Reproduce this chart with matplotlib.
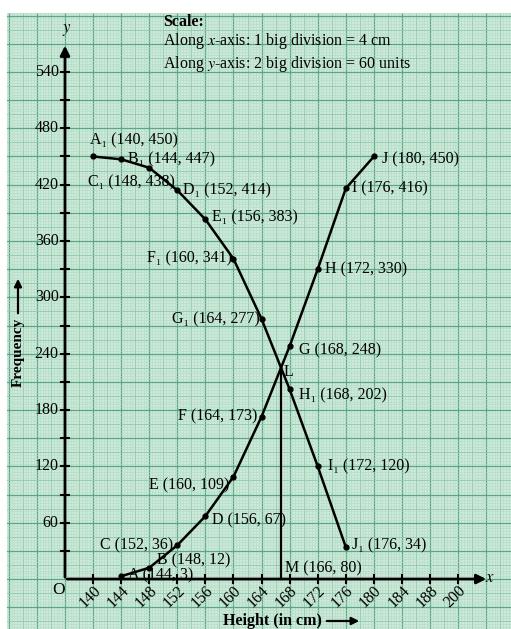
import numpy as np
import matplotlib.pyplot as plt

plt.rcParams['font.family'] = ['Liberation Serif', 'DejaVu Serif']
plt.rcParams['mathtext.fontset'] = 'stix'

# ogive data
heights_more = [140, 144, 148, 152, 156, 160, 164, 168, 172, 176]
more_than = [450, 447, 438, 414, 383, 341, 277, 202, 120, 34]
names_more = ['A₁', 'B₁', 'C₁', 'D₁', 'E₁', 'F₁', 'G₁', 'H₁', 'I₁', 'J₁']

heights_less = [144, 148, 152, 156, 160, 164, 168, 172, 176, 180]
less_than = [3, 12, 36, 67, 109, 173, 248, 330, 416, 450]
names_less = ['A', 'B', 'C', 'D', 'E', 'F', 'G', 'H', 'I', 'J']

x_tick_pos = [140, 144, 148, 152, 156, 160, 164, 168, 172, 176, 180, 184, 188, 192]
x_tick_text = ['140', '144', '148', '152', '156', '160', '164', '168', '172', '176',
               '180', '184', '188', '200']
y_ticks = list(range(30, 541, 30))
y_tick_text = list(range(60, 541, 60))

# label offsets in pixels (dx, dy, ha)
off_more = [(-3, 16, 'left'), (7, 0, 'left'), (-61, -15, 'left'), (6, 0, 'left'),
            (7, 2, 'left'), (-1, 0, 'right'), (-2, 0, 'right'), (9, -6, 'left'),
            (10, 0, 'left'), (6, 2, 'left')]
off_less = [(7, 1, 'left'), (8, 7, 'left'), (-4, 0, 'right'), (7, -4, 'left'),
            (-4, -9, 'right'), (-4, 0, 'right'), (9, -4, 'left'), (7, 0, 'left'),
            (6, 0, 'left'), (8, -3, 'left')]

FS = 11.5
W, H = 511, 629
fig = plt.figure(figsize=(W / 100, H / 100), dpi=100)
ax = fig.add_axes([7 / W, 0, 1 - 7 / W, (H - 13) / H])
ax.set_xlim(127.74, 199.53)
ax.set_ylim(-53.2, 602.8)
ax.set_axis_off()
ax.add_patch(plt.Rectangle((0, 0), 1, 1, transform=ax.transAxes,
                           color='#cde9d9', zorder=0))

# graph paper
for step, col, lw in [(0.4, '#b2dbc5', 0.4), (2, '#93c9ad', 0.6), (4, '#5ba686', 0.9)]:
    ax.vlines(np.arange(124, 204, step), -60, 610, color=col, lw=lw, zorder=1)
for step, col, lw in [(3, '#b2dbc5', 0.4), (15, '#93c9ad', 0.6), (30, '#5ba686', 0.9)]:
    ax.hlines(np.arange(-60, 611, step), 120, 205, color=col, lw=lw, zorder=1)

# axes with arrows
ax.annotate('', xy=(196.4, 0), xytext=(135.9, 0),
            arrowprops=dict(arrowstyle='-|>', color='black', lw=2, mutation_scale=14),
            zorder=3)
ax.annotate('', xy=(136, 571), xytext=(136, -1),
            arrowprops=dict(arrowstyle='-|>', color='black', lw=2, mutation_scale=14),
            zorder=3)
for t, s in zip(x_tick_pos, x_tick_text):
    ax.plot([t, t], [-4.3, 4.3], color='black', lw=1.5, zorder=3)
    ax.text(t - 0.45, -19, s, rotation=45, ha='center', va='center', fontsize=FS)
for t in y_ticks:
    ax.plot([135.43, 136.57], [t, t], color='black', lw=1.5, zorder=3)
for t in y_tick_text:
    ax.text(135.1, t, str(t), ha='right', va='center', fontsize=FS)
ax.text(135.15, -12, 'O', ha='center', va='center', fontsize=FS + 1)

# ogives
ax.plot(heights_more, more_than, color='black', lw=1.8, marker='o', ms=3.5, zorder=4)
ax.plot(heights_less, less_than, color='black', lw=1.8, marker='o', ms=3.5, zorder=4)

for xs, ys, names, offs in [(heights_more, more_than, names_more, off_more),
                            (heights_less, less_than, names_less, off_less)]:
    for x, y, n, (dx, dy, ha) in zip(xs, ys, names, offs):
        ax.annotate(f'{n} ({x}, {y})', (x, y), xytext=(dx, dy), textcoords='offset pixels',
                    ha=ha, va='center', fontsize=FS, zorder=5)

# intersection L of the two ogives (segments 164-168)
i = heights_more.index(164)
j = heights_less.index(164)
d0 = more_than[i] - less_than[j]
d1 = more_than[i + 1] - less_than[j + 1]
t = d0 / (d0 - d1)
lx = 164 + 4 * t
ly = more_than[i] + t * (more_than[i + 1] - more_than[i])
ax.plot([lx, lx], [ly, 0], color='black', lw=1.6, zorder=4)
ax.annotate('L', (lx, ly), xytext=(3, -4), textcoords='offset pixels',
            ha='left', va='center', fontsize=FS)
ax.annotate('M (166, 80)', (lx, 0), xytext=(4, 11), textcoords='offset pixels',
            ha='left', va='center', fontsize=FS)

# axis names and scale note
def fpos(px, py):
    return px / W, 1 - py / H

fig.text(*fpos(490, 578), '$x$', fontsize=12, ha='center', va='center')
fig.text(*fpos(67, 30), '$y$', fontsize=12, ha='center', va='center')
fig.text(*fpos(272, 621), 'Height (in cm)', fontsize=FS, fontweight='bold',
         ha='center', va='center')
ax.annotate('', xy=fpos(362, 621), xytext=fpos(324, 621), xycoords='figure fraction',
            arrowprops=dict(arrowstyle='-|>', color='black', lw=1.6, mutation_scale=11))
fig.text(*fpos(18, 352), 'Frequency', fontsize=11, fontweight='bold', rotation=90,
         ha='center', va='center')
ax.annotate('', xy=fpos(18, 276), xytext=fpos(18, 316), xycoords='figure fraction',
            arrowprops=dict(arrowstyle='-|>', color='black', lw=1.6, mutation_scale=11))

fig.text(*fpos(163, 22), 'Scale:', fontsize=FS, fontweight='bold', ha='left', va='center')
fig.text(*fpos(163, 41), 'Along $x$-axis: 1 big division = 4 cm', fontsize=FS,
         ha='left', va='center')
fig.text(*fpos(163, 64), 'Along $y$-axis: 2 big division = 60 units', fontsize=FS,
         ha='left', va='center')

fig.savefig('out.png', dpi=100)
